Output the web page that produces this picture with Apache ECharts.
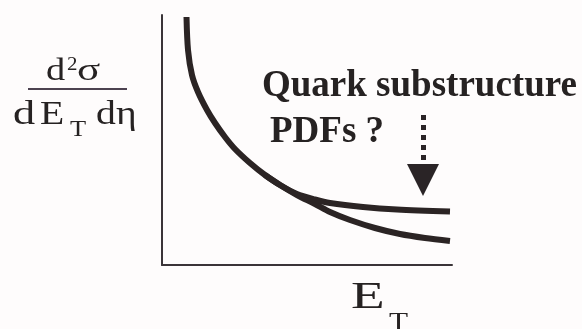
<!DOCTYPE html>
<html>
<head>
<meta charset="utf-8">
<script src="https://cdn.jsdelivr.net/npm/echarts@6/dist/echarts.min.js"></script>
<style>
  html, body { margin: 0; padding: 0; background: #fefcfc; }
  #chart { width: 582px; height: 329px; }
</style>
</head>
<body>
<div id="chart"></div>
<script>
// Transverse energy (arbitrary units) and cross sections for the two curves
var etStandard = [8.45, 8.97, 10.34, 12.41, 15.52, 18.28, 21.72, 25.17, 30.34, 35.52, 40.69, 46.55, 52.76, 57.93, 64.83, 73.45, 82.07, 90.69, 99.31];
var xsStandard = [99.2, 86.0, 76.0, 69.2, 62.0, 56.8, 51.2, 46.4, 40.8, 36.0, 32.0, 28.0, 24.4, 21.2, 18.0, 14.8, 12.4, 10.8, 9.6];
var etExcess = [35.52, 40.69, 46.55, 52.76, 57.93, 69.31, 81.03, 99.31];
var xsExcess = [36.0, 32.0, 28.4, 26.2, 24.8, 23.2, 22.2, 21.4];

// Dotted arrow pointing down at the excess (start and end in data units)
var arrowEt = 90;
var arrowFrom = 60;
var arrowTo = 34;

var annotationLines = ['Quark substructure', 'PDFs ?'];

function pairs(xs, ys) {
  return xs.map(function (x, i) { return [x, ys[i]]; });
}

var ink = '#2b2424';
var serif = "'Liberation Serif', 'Times New Roman', serif";

// Place a piece of text by its left edge and baseline
function glyph(text, x, baseline, size, sx, weight) {
  return {
    type: 'text', x: x, y: baseline - 0.77 * size, scaleX: sx || 1, silent: true,
    style: {
      x: 0, y: 0, text: text, fill: '#262222',
      font: (weight || 'normal') + ' ' + size + 'px ' + serif,
      verticalAlign: 'top', align: 'left'
    }
  };
}

var chart = echarts.init(document.getElementById('chart'), null, { renderer: 'canvas' });

chart.setOption({
  animation: false,
  backgroundColor: '#fefcfc',
  grid: { left: 162, right: 130, top: 15, bottom: 64 },
  xAxis: {
    type: 'value', min: 0, max: 100,
    axisLine: { show: true, lineStyle: { color: '#3a3438', width: 2 } },
    axisTick: { show: false }, axisLabel: { show: false }, splitLine: { show: false }
  },
  yAxis: {
    type: 'value', min: 0, max: 100,
    axisLine: { show: true, lineStyle: { color: '#3a3438', width: 2 } },
    axisTick: { show: false }, axisLabel: { show: false }, splitLine: { show: false }
  },
  series: [
    {
      type: 'line', name: 'standard',
      data: pairs(etStandard, xsStandard),
      showSymbol: false, smooth: 0.3, clip: false,
      lineStyle: { color: ink, width: 6, cap: 'butt' }
    },
    {
      type: 'line', name: 'excess',
      data: pairs(etExcess, xsExcess),
      showSymbol: false, smooth: 0.3, clip: false,
      lineStyle: { color: ink, width: 6, cap: 'butt' },
      markLine: {
        silent: true, animation: false,
        symbol: ['none', 'triangle'], symbolSize: 32,
        label: { show: false },
        lineStyle: { color: '#2a2426', width: 5, type: [5, 5] },
        data: [[{ coord: [arrowEt, arrowFrom] }, { coord: [arrowEt, arrowTo] }]]
      }
    }
  ],
  graphic: [
    glyph(annotationLines[0], 262, 96, 37, 1, 'bold'),
    glyph(annotationLines[1], 270, 142, 37, 1, 'bold'),
    // y axis title: d²σ / dE_T dη
    glyph('d', 46, 80, 32, 1.2),
    glyph('2', 67, 70, 19, 1.1),
    glyph('σ', 77, 80, 32, 1.35),
    { type: 'line', silent: true, shape: { x1: 28, y1: 89, x2: 127, y2: 89 },
      style: { stroke: '#4c4250', lineWidth: 2 } },
    glyph('d', 13, 124, 34, 1.3),
    glyph('E', 40, 124, 33, 1.2),
    glyph('T', 70, 136, 24, 1.1),
    glyph('d', 96, 124, 33, 1.2),
    glyph('η', 116, 124, 33, 1.2),
    // x axis title: E_T
    glyph('E', 351, 308, 38, 1.45),
    glyph('T', 389, 330, 26, 1.2)
  ]
});
</script>
</body>
</html>
